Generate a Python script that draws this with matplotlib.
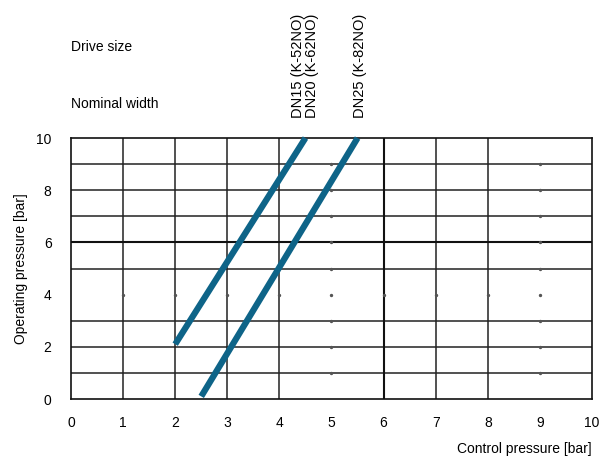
import numpy as np
import matplotlib
matplotlib.use("Agg")
import matplotlib.pyplot as plt

plt.rcParams["font.family"] = ["Liberation Sans", "DejaVu Sans"]

# characteristic lines: (control pressure, operating pressure) end points
dn15_x = [2.0, 4.5]
dn15_y = [2.1, 10.0]
dn25_x = [2.5, 5.5]
dn25_y = [0.1, 10.0]

dn15_label = "DN15 (K-52NO)\nDN20 (K-62NO)"
dn25_label = "DN25 (K-82NO)"

x_ticks = list(range(0, 11))
y_ticks = [0, 2, 4, 6, 8, 10]

# grid lines actually drawn in the original chart (some are only dotted)
v_lines = [1, 2, 3, 4, 7, 8]
h_lines = [1, 2, 3, 5, 7, 8, 9]
bold_v = [6]
bold_h = [6]
dot_x = [5, 9]
dot_y = [1, 2, 3, 4, 5, 6, 7, 8, 9]

line_color = "#0e6488"


def main():
    fig = plt.figure(figsize=(6.03, 4.59), dpi=100)
    ax = fig.add_axes([0.1177, 0.1307, 0.8641, 0.5686])
    ax.set_xlim(0, 10)
    ax.set_ylim(0, 10)

    for x in v_lines:
        ax.axvline(x, color="#222222", lw=1.1, zorder=1)
    for y in h_lines:
        ax.axhline(y, color="#222222", lw=1.1, zorder=1)
    for x in bold_v:
        ax.axvline(x, color="#111111", lw=1.5, zorder=1)
    for y in bold_h:
        ax.axhline(y, color="#111111", lw=1.5, zorder=1)

    # faint dots where the grid has no line
    pts = [(x, y) for x in dot_x for y in dot_y] + [(x, 4) for x in v_lines + bold_v]
    ax.scatter([p[0] for p in pts], [p[1] for p in pts], s=2, color="#555555", zorder=1)

    ax.plot(dn15_x, dn15_y, color=line_color, lw=4.5, solid_capstyle="butt", zorder=3, clip_on=False)
    ax.plot(dn25_x, dn25_y, color=line_color, lw=4.5, solid_capstyle="butt", zorder=3, clip_on=False)

    for s in ax.spines.values():
        s.set_linewidth(1.2)
        s.set_color("#111111")

    ax.set_xticks(x_ticks)
    ax.set_yticks(y_ticks)
    ax.tick_params(length=0, labelsize=10, pad=12)
    ax.tick_params(axis="y", pad=14)

    ax.set_ylabel("Operating pressure [bar]", fontsize=10, labelpad=6)
    ax.text(1.0, -0.19, "Control pressure [bar]", transform=ax.transAxes,
            ha="right", va="center", fontsize=10)

    # header texts above the plot
    ax.text(0.0, 1.13, "Nominal width", transform=ax.transAxes, ha="left", va="center", fontsize=10)
    ax.text(0.0, 1.35, "Drive size", transform=ax.transAxes, ha="left", va="center", fontsize=10)
    ax.text(4.5, 10.75, dn15_label, rotation=90, ha="center", va="bottom",
            fontsize=10.5, linespacing=1.0)
    ax.text(5.55, 10.75, dn25_label, rotation=90, ha="center", va="bottom",
            fontsize=10.5, linespacing=1.0)

    fig.savefig("out.png", dpi=100)
    plt.close(fig)


if __name__ == "__main__":
    main()
